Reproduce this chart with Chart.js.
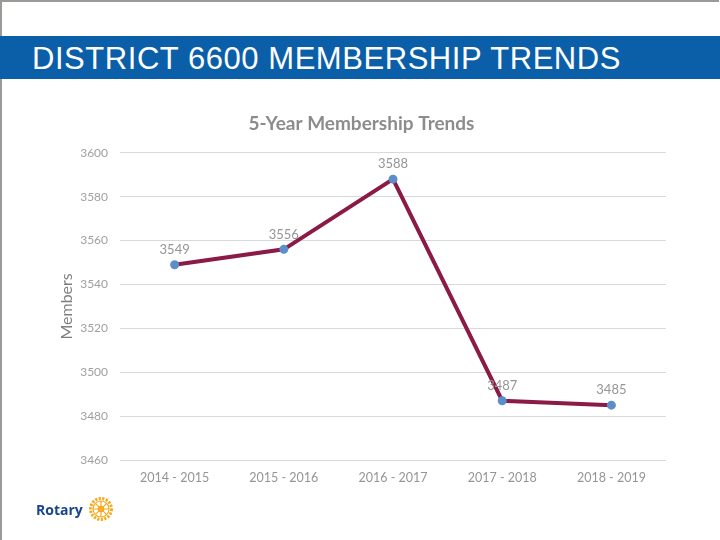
<!DOCTYPE html>
<html>
<head>
<meta charset="utf-8">
<script src="https://cdn.jsdelivr.net/npm/chart.js@4"></script>
<style>
  body { margin: 0; width: 720px; height: 540px; position: relative; background: #fff; overflow: hidden; }
  #frame { position: absolute; left: 0; top: 0; width: 719px; height: 540px; border-top: 2px solid #9a9a96; border-left: 2px solid #9a9a96; box-sizing: border-box; }
  #banner { position: absolute; left: 0; top: 36px; width: 720px; height: 43px; background: #0b5ea8; }
  #banner span { position: absolute; left: 32px; top: 5px; color: #fff; font-family: "Liberation Sans", Arial, sans-serif; font-size: 31px; letter-spacing: 0.55px; }
  #box { position: absolute; left: 0; top: 100px; width: 720px; height: 400px; }
  #logo { position: absolute; left: 36px; top: 496px; height: 26px; display: flex; align-items: center; }
  #logo span { font-family: "Open Sans", sans-serif; font-weight: bold; font-size: 14px; color: #17458f; margin-right: 5px; }
</style>
</head>
<body>
<div id="frame"></div>
<div id="banner"><span>DISTRICT 6600 MEMBERSHIP TRENDS</span></div>
<div id="box"><canvas id="myChart"></canvas></div>
<div id="logo"><span>Rotary</span>
  <svg width="26" height="26" viewBox="-13 -13 26 26">
    <g fill="none" stroke="#f7a81b">
      <circle r="10.5" stroke-width="3" stroke-dasharray="2.2 1.4"/>
      <circle r="8" stroke-width="1.2"/>
      <circle r="2.5" stroke-width="1.5"/>
      <path d="M0-8V8M-8 0H8M-5.7-5.7L5.7 5.7M5.7-5.7L-5.7 5.7" stroke-width="1.2"/>
    </g>
  </svg>
</div>
<script>
var labels = ['2014 - 2015', '2015 - 2016', '2016 - 2017', '2017 - 2018', '2018 - 2019'];
var members = [3549, 3556, 3588, 3487, 3485];
var yMin = 3460, yMax = 3600, yStep = 20;

// etiquetas de valor encima de cada punto
var valueLabels = {
    id: 'valueLabels',
    afterDatasetsDraw: function (chart) {
        var ctx = chart.ctx;
        var meta = chart.getDatasetMeta(0);
        ctx.save();
        ctx.font = '13px Lato, "Open Sans", sans-serif';
        ctx.fillStyle = '#959595';
        ctx.textAlign = 'center';
        ctx.textBaseline = 'middle';
        meta.data.forEach(function (pt, i) {
            ctx.fillText(members[i], pt.x, pt.y - 15);
        });
        ctx.restore();
    }
};

function renderChart() {
    var ctx = document.getElementById('myChart').getContext('2d');
    var myChart = new Chart(ctx, {
        type: 'line',
        data: {
            labels: labels,
            datasets: [{
                label: 'Members',
                data: members,
                borderColor: '#8b1a46',
                borderWidth: 4,
                pointBackgroundColor: '#5b8fc9',
                pointBorderColor: '#5b8fc9',
                pointRadius: 2.5,
                tension: 0
            }]
        },
        options: {
            responsive: true,
            maintainAspectRatio: false,
            animation: false,
            layout: { padding: { left: 57, right: 54, top: 8, bottom: 13 } },
            plugins: {
                legend: { display: false },
                tooltip: { enabled: false },
                title: {
                    display: true,
                    text: '5-Year Membership Trends',
                    color: '#8c8c8c',
                    font: { family: 'Lato, "Open Sans", sans-serif', size: 19, weight: 'bold' },
                    padding: { top: 4, bottom: 18 }
                }
            },
            scales: {
                x: {
                    offset: true,
                    grid: { display: false },
                    border: { display: false },
                    ticks: { color: '#959595', font: { family: 'Lato, "Open Sans", sans-serif', size: 12.5 }, padding: 2 }
                },
                y: {
                    min: yMin,
                    max: yMax,
                    ticks: {
                        stepSize: yStep,
                        color: '#a0a0a0',
                        font: { family: 'Lato, "Open Sans", sans-serif', size: 12 },
                        padding: 12,
                        callback: function (v) { return String(v); }
                    },
                    grid: { color: '#d9d9d9', drawTicks: false },
                    border: { display: false },
                    title: {
                        display: true,
                        text: 'Members',
                        color: '#7f7f7f',
                        font: { family: 'Lato, "Open Sans", sans-serif', size: 16 },
                        padding: { top: 0, bottom: -8 }
                    }
                }
            }
        },
        plugins: [valueLabels]
    });
}

renderChart();
</script>
</body>
</html>
